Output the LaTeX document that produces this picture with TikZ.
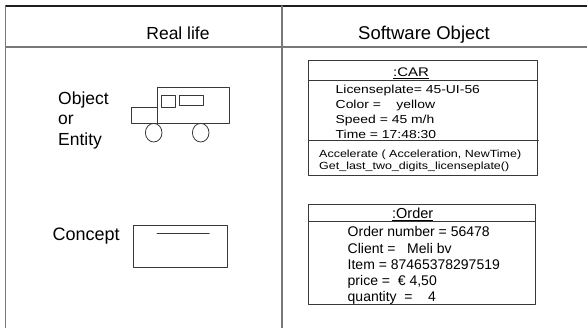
\documentclass[tikz,border=0pt]{standalone}
\usepackage{fontspec}
\setmainfont{Liberation Sans}
\newfontfamily\carfont[FakeStretch=1.2]{Liberation Sans}
\definecolor{rulegray}{rgb}{0.47,0.47,0.47}
\definecolor{topblack}{rgb}{0.12,0.12,0.12}
\definecolor{boxgray}{rgb}{0.22,0.22,0.22}

\begin{document}
\begin{tikzpicture}[x=1pt,y=-1pt,line cap=round,line join=round,
    txt/.style={inner sep=0pt,anchor=base west,text=black}]
  \useasboundingbox (0,0) rectangle (587,328);
  % table rules
  \draw[line width=1.2pt,color=topblack] (5.5,6)--(587,6);
  \draw[line width=1.5pt,color=rulegray] (5.5,6)--(5.5,328);
  \draw[line width=1.5pt,color=rulegray] (282,6)--(282,328);
  \draw[line width=1.3pt,color=rulegray] (5.5,47)--(587,47);
  \node[txt,anchor=base,font=\fontsize{17.5}{21}\selectfont] (reallife) at (178,40) {Real life};
  \node[txt,anchor=base,font=\fontsize{18.5}{21}\selectfont] (softobj) at (424,40) {Software Object};
  % real life: object or entity
  \node[txt,font=\fontsize{17.5}{21}\selectfont] (object) at (58,104.5) {Object};
  \node[txt,font=\fontsize{17.5}{21}\selectfont] (or) at (58,125) {or};
  \node[txt,font=\fontsize{17.5}{21}\selectfont] (entity) at (58,145.5) {Entity};
  \draw[line width=0.8pt,color=boxgray] (131.7,107) rectangle (157,123);
  \draw[line width=0.8pt,color=boxgray] (157,87) rectangle (229,123);
  \draw[line width=0.8pt,color=boxgray] (161,95) rectangle (175,107.7);
  \draw[line width=0.8pt,color=boxgray] (179,95) rectangle (203.3,105.7);
  \draw[line width=0.8pt,color=boxgray] (153.7,132.7) ellipse [x radius=8.3pt,y radius=9.3pt];
  \draw[line width=0.8pt,color=boxgray] (200.7,132.7) ellipse [x radius=8.3pt,y radius=9.3pt];
  % real life: concept
  \node[txt,font=\fontsize{18}{21}\selectfont] (concept) at (52.5,240.7) {Concept};
  \draw[line width=0.8pt,color=boxgray] (133,225.3) rectangle (227.7,267.3);
  \draw[line width=0.8pt,color=boxgray] (157,233.3)--(209.3,233.3);
  % software object: car
  \draw[line width=0.9pt,color=boxgray] (308.3,60) rectangle (537.7,175);
  \draw[line width=0.9pt,color=boxgray] (308.3,80.7)--(537.7,80.7);
  \draw[line width=0.9pt,color=boxgray] (308.3,140.7)--(538.5,140.7);
  \node[txt,anchor=base,font=\carfont\fontsize{12.5}{15}\selectfont] (car) at (411,76.7) {\underline{:CAR}};
  \node[txt,font=\carfont\fontsize{11.6}{14}\selectfont] (plate) at (335.5,93.3) {Licenseplate= 45-UI-56};
  \node[txt,font=\carfont\fontsize{11.6}{14}\selectfont] (color) at (335.5,108.5) {Color =\ \ \ \ yellow};
  \node[txt,font=\carfont\fontsize{11.6}{14}\selectfont] (speed) at (335.5,123.7) {Speed = 45 m/h};
  \node[txt,font=\carfont\fontsize{11.6}{14}\selectfont] (time) at (335.5,139) {Time = 17:48:30};
  \node[txt,font=\carfont\fontsize{10.4}{13}\selectfont] (accel) at (319,157.3) {Accelerate ( Acceleration, NewTime)};
  \node[txt,font=\carfont\fontsize{10.4}{13}\selectfont] (getlast) at (319,169.5) {Get\_last\_two\_digits\_licenseplate()};
  % software object: order
  \draw[line width=0.9pt,color=boxgray] (308.3,204) rectangle (535.7,304.3);
  \draw[line width=0.9pt,color=boxgray] (308.3,221.7)--(535.7,221.7);
  \node[txt,anchor=base,font=\fontsize{14.5}{17}\selectfont] (order) at (412.7,218.3) {\underline{:Order}};
  \node[txt,font=\fontsize{14}{17}\selectfont] (ordernr) at (347.5,237) {Order number = 56478};
  \node[txt,font=\fontsize{14}{17}\selectfont] (client) at (347.5,253.3) {Client =\ \ \ Meli bv};
  \node[txt,font=\fontsize{14}{17}\selectfont] (item) at (347.5,270) {Item = 87465378297519};
  \node[txt,font=\fontsize{14}{17}\selectfont] (price) at (347.5,286) {price =\ \ € 4,50};
  \node[txt,font=\fontsize{14}{17}\selectfont] (quantity) at (347.5,301.7) {quantity\ \ =\ \ \ \ 4};
\end{tikzpicture}
\end{document}
